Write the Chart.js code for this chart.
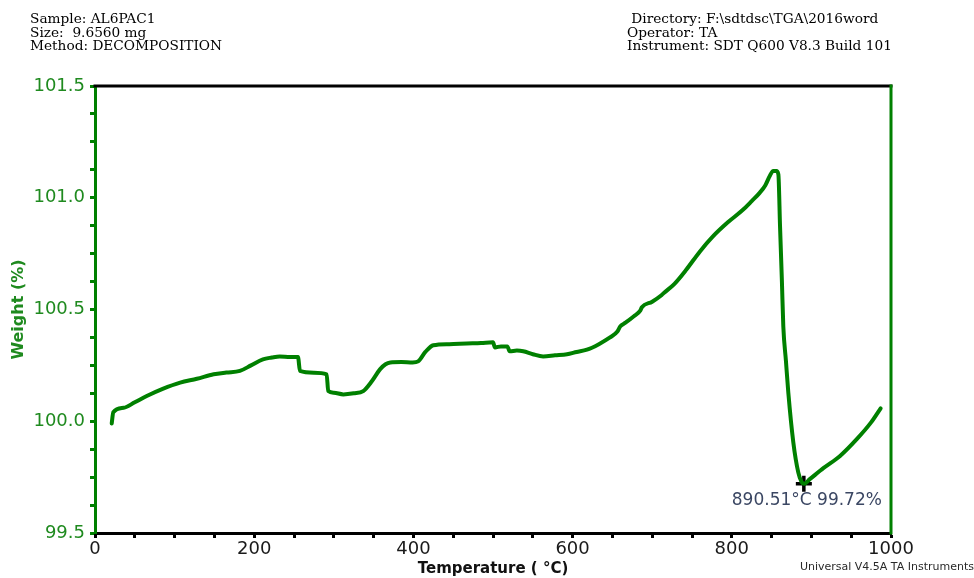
<!DOCTYPE html>
<html>
<head>
<meta charset="utf-8">
<title>AL6PAC1 TGA</title>
<script src="https://cdn.jsdelivr.net/npm/chart.js@4.4.1/dist/chart.umd.min.js"></script>
<style>
  html, body { margin: 0; padding: 0; background: #ffffff; }
  #wrap { width: 974px; height: 578px; position: relative; }
  canvas { display: block; }
</style>
</head>
<body>
<div id="wrap"><canvas id="tga" width="974" height="578"></canvas></div>
<script>
// Sample temperature (°C) and weight (%) readings of the TGA run
const temperatureC = [
  21, 23, 36, 50, 65, 85, 107, 128, 149, 165, 182, 196, 211, 222, 232, 245, 255,
  257.5, 275, 291, 293, 300, 312, 325, 337, 348, 358, 365, 371, 385, 399, 406,
  415, 425, 445, 467, 485, 500, 502.5, 510, 518, 521, 530, 538, 550, 563, 578,
  593, 605, 618, 633, 647, 656, 660, 666, 677, 685, 687, 700, 712, 715, 728, 743,
  760, 776, 795, 814, 825, 835, 842, 848, 852, 856, 858.5, 860.6, 863, 864.7, 868,
  871, 877.3, 883.5, 887.7, 890.51, 898, 915, 936, 957, 975, 987
];
const weightPct = [
  99.99, 100.04, 100.06, 100.085, 100.113, 100.145, 100.173, 100.19, 100.21, 100.218,
  100.225, 100.25, 100.277, 100.285, 100.29, 100.288, 100.287,
  100.225, 100.217, 100.21, 100.135, 100.128, 100.12, 100.125, 100.135, 100.18,
  100.232, 100.255, 100.263, 100.265, 100.263, 100.268,
  100.31, 100.34, 100.345, 100.348, 100.35, 100.353, 100.33, 100.335, 100.335,
  100.313, 100.316, 100.313, 100.3, 100.29, 100.295,
  100.3, 100.31, 100.32, 100.345, 100.375, 100.40, 100.425, 100.44, 100.47, 100.495,
  100.51, 100.535, 100.565, 100.575, 100.615, 100.679,
  100.76, 100.826, 100.89, 100.946, 100.985, 101.022, 101.055, 101.10, 101.12, 101.12,
  101.105, 100.872, 100.62, 100.425, 100.27,
  100.128, 99.905, 99.771, 99.728, 99.72, 99.741, 99.79, 99.845, 99.92, 99.995, 100.058
];

// Marked minimum of the curve
const minTemperature = 890.51;
const minWeight = 99.72;

// Axis ranges and labelled ticks
const xRange = [0, 1000];
const xLabelledTicks = [0, 200, 400, 600, 800, 1000];
const yRange = [99.5, 101.5];
const yLabelledTicks = [99.5, 100.0, 100.5, 101.0, 101.5];

// Run information printed above the plot
const headerLeft = ['Sample: AL6PAC1', 'Size:  9.6560 mg', 'Method: DECOMPOSITION'];
const headerRight = [' Directory: F:\\sdtdsc\\TGA\\2016word', 'Operator: TA', 'Instrument: SDT Q600 V8.3 Build 101'];
const footerText = 'Universal V4.5A TA Instruments';

const GREEN = '#008000';
const LABEL_GREEN = '#1f8a1f';

const curvePoints = temperatureC.map((t, i) => ({ x: t, y: weightPct[i] }));

// Frame edges, header/footer text and the minimum readout
const decorations = {
  id: 'decorations',
  afterDatasetsDraw(chart) {
    const { ctx, chartArea } = chart;
    ctx.save();
    ctx.lineCap = 'square';
    ctx.lineWidth = 3;
    ctx.strokeStyle = '#000000';
    ctx.beginPath();
    ctx.moveTo(chartArea.left, chartArea.top);
    ctx.lineTo(chartArea.right, chartArea.top);
    ctx.stroke();
    ctx.strokeStyle = GREEN;
    ctx.beginPath();
    ctx.moveTo(chartArea.right, chartArea.top);
    ctx.lineTo(chartArea.right, chartArea.bottom);
    ctx.stroke();

    const marker = chart.getDatasetMeta(1).data[0];
    if (marker) {
      ctx.fillStyle = '#3b4763';
      ctx.font = '17px "DejaVu Sans"';
      ctx.textAlign = 'center';
      ctx.textBaseline = 'middle';
      ctx.fillText(minTemperature.toFixed(2) + '°C ' + minWeight.toFixed(2) + '%', marker.x + 3, marker.y + 17);
    }
    ctx.restore();
  },
  afterDraw(chart) {
    const { ctx } = chart;
    ctx.save();
    ctx.fillStyle = '#000000';
    ctx.font = '13.7px "DejaVu Serif"';
    ctx.textBaseline = 'alphabetic';
    ctx.textAlign = 'left';
    headerLeft.forEach((s, i) => ctx.fillText(s, 30, 23 + i * 13.5));
    headerRight.forEach((s, i) => ctx.fillText(s, 627, 23 + i * 13.5));
    ctx.fillStyle = '#2a2a2a';
    ctx.font = '11px "DejaVu Sans"';
    ctx.textAlign = 'right';
    ctx.fillText(footerText, 974, 570);
    ctx.restore();
  }
};

const isLabelled = (v, list) => list.some(t => Math.abs(t - v) < 1e-9);

new Chart(document.getElementById('tga'), {
  type: 'line',
  data: {
    datasets: [
      {
        data: curvePoints,
        borderColor: GREEN,
        borderWidth: 4,
        pointRadius: 0,
        cubicInterpolationMode: 'monotone',
        borderJoinStyle: 'round',
        borderCapStyle: 'round',
        fill: false
      },
      {
        data: [{ x: minTemperature, y: minWeight }],
        showLine: false,
        pointStyle: 'cross',
        pointRadius: 8,
        pointBorderWidth: 3.5,
        pointBorderColor: '#000000',
        pointBackgroundColor: '#000000'
      }
    ]
  },
  options: {
    responsive: false,
    animation: false,
    devicePixelRatio: 1,
    layout: { padding: { left: 0, top: 86, right: 83, bottom: 0 } },
    plugins: { legend: { display: false }, tooltip: { enabled: false } },
    scales: {
      x: {
        type: 'linear',
        min: xRange[0],
        max: xRange[1],
        afterFit(scale) { scale.height = 45; },
        border: { display: true, color: '#000000', width: 3 },
        grid: { drawOnChartArea: false, drawTicks: true, tickLength: 5, tickWidth: 3, tickColor: '#000000' },
        ticks: {
          stepSize: 50,
          autoSkip: false,
          maxRotation: 0,
          padding: 1,
          color: '#1a1a1a',
          font: { family: 'DejaVu Sans', size: 18 },
          callback: v => isLabelled(v, xLabelledTicks) ? String(v) : ''
        },
        title: {
          display: true,
          text: 'Temperature ( °C)',
          color: '#111111',
          font: { family: 'DejaVu Sans', size: 15, weight: 'bold' },
          padding: { top: 0, bottom: 0 }
        }
      },
      y: {
        type: 'linear',
        min: yRange[0],
        max: yRange[1],
        afterFit(scale) { scale.width = 95; },
        border: { display: true, color: GREEN, width: 3 },
        grid: { drawOnChartArea: false, drawTicks: true, tickLength: 5, tickWidth: 3, tickColor: GREEN },
        ticks: {
          stepSize: 0.125,
          autoSkip: false,
          padding: 5,
          color: LABEL_GREEN,
          font: { family: 'DejaVu Sans', size: 18 },
          callback: v => isLabelled(v, yLabelledTicks) ? v.toFixed(1) : ''
        },
        title: {
          display: true,
          text: 'Weight (%)',
          color: LABEL_GREEN,
          font: { family: 'DejaVu Sans', size: 16, weight: 'bold' },
          padding: { top: 9, bottom: 0 }
        }
      }
    }
  },
  plugins: [decorations]
});
</script>
</body>
</html>
